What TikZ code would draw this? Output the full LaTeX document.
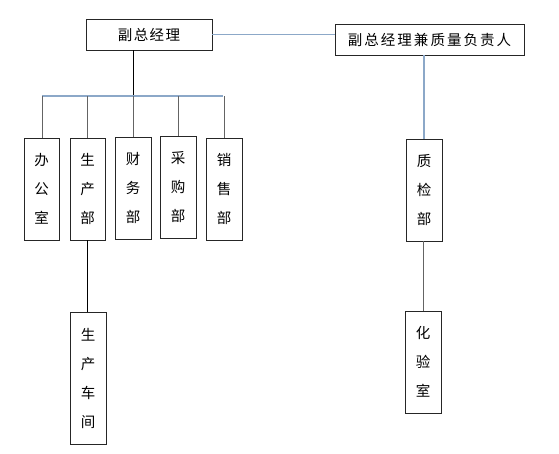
\documentclass[tikz,border=0pt]{standalone}
\usepackage{fontspec}
\newfontfamily\cjk{Noto Sans CJK SC}
\definecolor{bluel}{RGB}{140,168,200}
\definecolor{greyl}{RGB}{100,100,100}
\tikzset{
  hbox/.style={draw=black!85, line width=0.9pt, inner sep=0pt, font=\cjk\fontsize{14.5pt}{14.5pt}\selectfont},
  vbox/.style={draw=black!85, line width=0.9pt, inner sep=0pt, font=\cjk\fontsize{14.5pt}{29pt}\selectfont, align=center},
  blueline/.style={draw=bluel, line width=1.3pt},
  greyline/.style={draw=greyl, line width=1pt},
  blackline/.style={draw=black, line width=0.9pt},
}
\begin{document}
\begin{tikzpicture}[x=1pt,y=-1pt]
\useasboundingbox (0,0) rectangle (559,453);
% top boxes
\node[hbox, minimum width=126pt, minimum height=31pt] (gm) at (149,34.5) {\addfontfeature{LetterSpace=10}副总经理};
\node[hbox, minimum width=189pt, minimum height=31pt] (qm) at (429.5,39.5) {\addfontfeature{LetterSpace=14}副总经理兼质量负责人};
% department boxes
\node[vbox, minimum width=35pt, minimum height=102pt] (ban) at (41.5,189) {办\\公\\室};
\node[vbox, minimum width=35pt, minimum height=102pt] (sheng) at (87.5,189) {生\\产\\部};
\node[vbox, minimum width=36pt, minimum height=102pt] (cai) at (133,188) {财\\务\\部};
\node[vbox, minimum width=36pt, minimum height=102pt] (cg) at (178,187) {采\\购\\部};
\node[vbox, minimum width=36pt, minimum height=102pt] (xs) at (224,189) {销\\售\\部};
\node[vbox, minimum width=36pt, minimum height=132pt] (cj) at (88,378) {生\\产\\车\\间};
\node[vbox, minimum width=36pt, minimum height=102pt] (zj) at (424,190) {质\\检\\部};
\node[vbox, minimum width=36pt, minimum height=102pt] (hy) at (423,362) {化\\验\\室};
% bus
\coordinate (busL) at (42,96);
\coordinate (busR) at (223,96);
\coordinate (busM) at (133,96);
% connectors
\draw[blueline] (gm.east) -- (qm.west |- gm.east);
\draw[blackline] (gm.south -| busM) -- (busM);
\draw[blueline] (busL) -- (busR);
\draw[greyline] (busL) -- (busL |- ban.north);
\draw[greyline] (sheng.north |- busL) -- (sheng.north);
\draw[greyline] (busM) -- (cai.north);
\draw[greyline] (cg.north |- busL) -- (cg.north);
\draw[greyline] (xs.north |- busL) -- (xs.north);
\draw[blackline] (sheng.south) -- (sheng.south |- cj.north);
\draw[blueline] (qm.south -| zj.north) -- (zj.north);
\draw[greyline] (zj.south -| hy.north) -- (hy.north);
\end{tikzpicture}
\end{document}
